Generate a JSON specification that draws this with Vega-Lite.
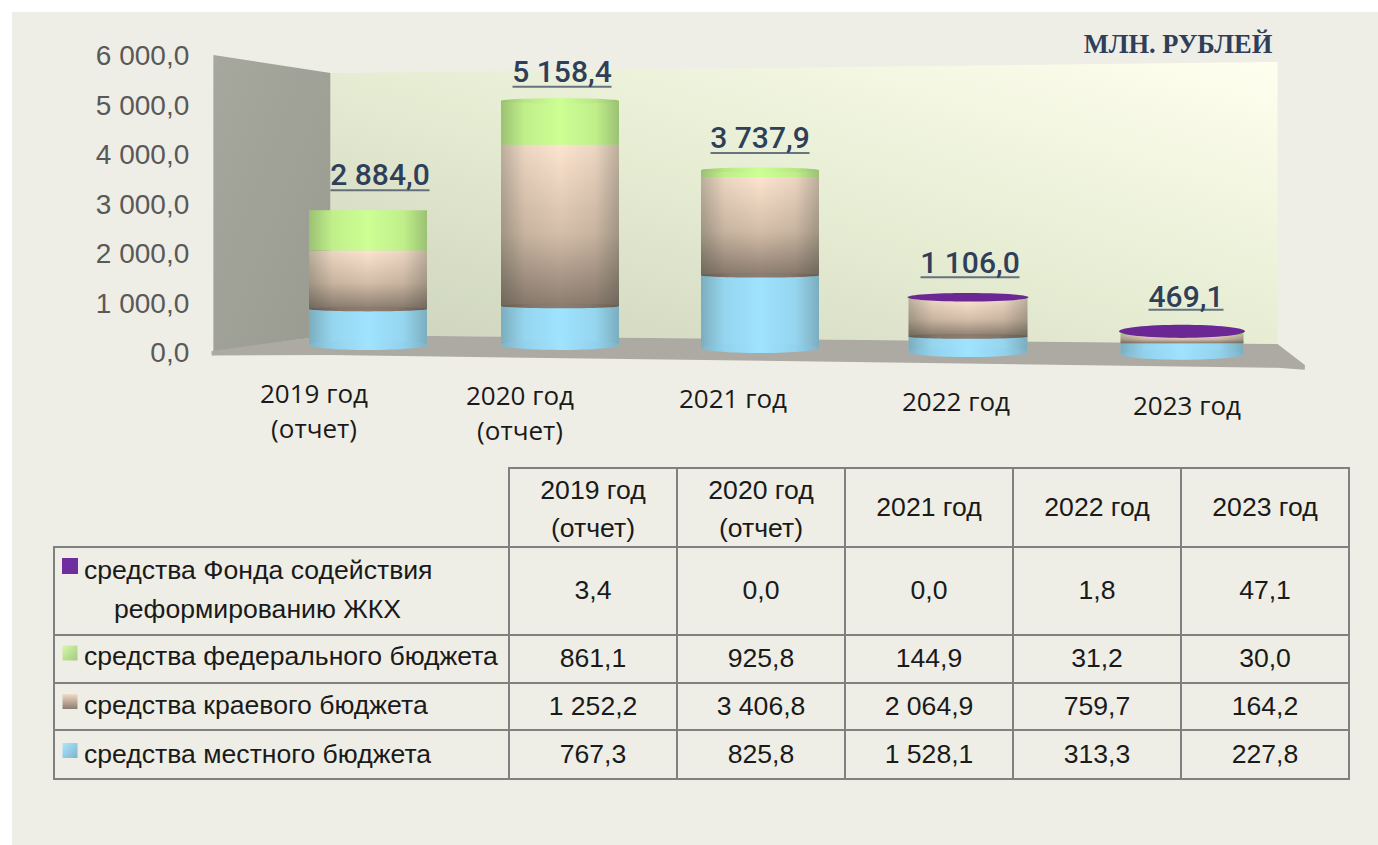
{
"$schema":"https://vega.github.io/schema/vega-lite/v6.json",
"padding":{"left":12,"top":12,"right":0,"bottom":0},
"background":"#ffffff",
"spacing":0,
"bounds":"flush",
"config":{"view":{"fill":"#eeeee6","stroke":null},"concat":{"spacing":0}},
"datasets":{
"walls":[
{"part":"left","px":2018.12,"top":6000,"bottom":0},
{"part":"left","px":2018.787,"top":5636,"bottom":343},
{"part":"back","px":2018.787,"top":5636,"bottom":343},
{"part":"back","px":2023.5,"top":5859,"bottom":162},
{"part":"floor","px":2018.11,"top":20,"bottom":-70},
{"part":"floor","px":2018.787,"top":343,"bottom":-60},
{"part":"floor","px":2023.5,"top":162,"bottom":-320},
{"part":"floor","px":2023.643,"top":-265,"bottom":-360}
],
"segments":[
{"year":2019,"rank":1,"value":767.3},{"year":2019,"rank":2,"value":1252.2},{"year":2019,"rank":3,"value":861.1},{"year":2019,"rank":4,"value":3.4},
{"year":2020,"rank":1,"value":825.8},{"year":2020,"rank":2,"value":3406.8},{"year":2020,"rank":3,"value":925.8},{"year":2020,"rank":4,"value":0},
{"year":2021,"rank":1,"value":1528.1},{"year":2021,"rank":2,"value":2064.9},{"year":2021,"rank":3,"value":144.9},{"year":2021,"rank":4,"value":0},
{"year":2022,"rank":1,"value":313.3},{"year":2022,"rank":2,"value":759.7},{"year":2022,"rank":3,"value":31.2},{"year":2022,"rank":4,"value":1.8},
{"year":2023,"rank":1,"value":227.8},{"year":2023,"rank":2,"value":164.2},{"year":2023,"rank":3,"value":30.0},{"year":2023,"rank":4,"value":47.1}
],
"totals":[
{"year":2019,"total":2884.0,"label":"2 884,0","cat":"2019 год\n(отчет)"},
{"year":2020,"total":5158.4,"label":"5 158,4","cat":"2020 год\n(отчет)"},
{"year":2021,"total":3737.9,"label":"3 737,9","cat":"2021 год"},
{"year":2022,"total":1106.0,"label":"1 106,0","cat":"2022 год"},
{"year":2023,"total":469.1,"label":"469,1","cat":"2023 год"}
],
"cells":[
{"row":0,"col":0,"text":"2019 год\n(отчет)"},{"row":0,"col":1,"text":"2020 год\n(отчет)"},{"row":0,"col":2,"text":"2021 год"},{"row":0,"col":3,"text":"2022 год"},{"row":0,"col":4,"text":"2023 год"},
{"row":1,"col":-1,"text":""},{"row":1,"col":0,"text":"3,4"},{"row":1,"col":1,"text":"0,0"},{"row":1,"col":2,"text":"0,0"},{"row":1,"col":3,"text":"1,8"},{"row":1,"col":4,"text":"47,1"},
{"row":2,"col":-1,"text":""},{"row":2,"col":0,"text":"861,1"},{"row":2,"col":1,"text":"925,8"},{"row":2,"col":2,"text":"144,9"},{"row":2,"col":3,"text":"31,2"},{"row":2,"col":4,"text":"30,0"},
{"row":3,"col":-1,"text":""},{"row":3,"col":0,"text":"1 252,2"},{"row":3,"col":1,"text":"3 406,8"},{"row":3,"col":2,"text":"2 064,9"},{"row":3,"col":3,"text":"759,7"},{"row":3,"col":4,"text":"164,2"},
{"row":4,"col":-1,"text":""},{"row":4,"col":0,"text":"767,3"},{"row":4,"col":1,"text":"825,8"},{"row":4,"col":2,"text":"1 528,1"},{"row":4,"col":3,"text":"313,3"},{"row":4,"col":4,"text":"227,8"}
],
"legend":[
{"row":1,"name":"средства Фонда содействия","cont":"реформированию ЖКХ"},
{"row":2,"name":"средства федерального бюджета","cont":""},
{"row":3,"name":"средства краевого бюджета","cont":""},
{"row":4,"name":"средства местного бюджета","cont":""}
]
},
"vconcat":[
{
"width":1366,"height":448,
"data":{"name":"segments"},
"transform":[
{"stack":"value","groupby":["year"],"sort":[{"field":"rank","order":"ascending"}],"as":["y0","y1"]},
{"calculate":"datum.year==2019?-7:datum.year==2020?-7:datum.year==2021?-4:datum.year==2022?0:2.5","as":"dy"},
{"calculate":"datum.year==2019?0.0027:datum.year==2020?0.0022:datum.year==2021?0.0019:0","as":"c"},
{"calculate":"datum.dy+datum.y0*datum.c","as":"o0"},
{"calculate":"datum.dy+datum.y1*datum.c","as":"o1"},
{"calculate":"datum.year==2022?119:datum.year==2023?123:118","as":"w"},
{"calculate":"datum.w*datum.w","as":"sz"}
],
"layer":[
{"data":{"name":"walls"},"transform":[{"filter":"datum.part=='left'"}],
"mark":{"type":"area","orient":"vertical","color":{"x1":0,"y1":0,"x2":1,"y2":1,"gradient":"linear","stops":[{"offset":0,"color":"#a6a89e"},{"offset":1,"color":"#999b91"}]}},
"encoding":{
"x":{"field":"px","type":"quantitative","axis":null,"scale":{"domain":[2017,2019,2020,2021,2022,2023,2024],"range":[0,356,548,748,956,1170,1366],"nice":false,"zero":false}},
"y":{"field":"top","type":"quantitative","axis":null,"scale":{"domain":[-2181.8,6868.7],"range":[448,0],"nice":false,"zero":false}},
"y2":{"field":"bottom"}}},
{"data":{"name":"walls"},"transform":[{"filter":"datum.part=='back'"}],
"mark":{"type":"area","orient":"vertical","color":{"x1":0,"y1":1,"x2":1,"y2":0,"gradient":"linear","stops":[{"offset":0,"color":"#cdd3bc"},{"offset":0.5,"color":"#e6edd3"},{"offset":1,"color":"#ffffef"}]}},
"encoding":{"x":{"field":"px","type":"quantitative","axis":null},"y":{"field":"top","type":"quantitative","axis":null},"y2":{"field":"bottom"}}},
{"data":{"name":"walls"},"transform":[{"filter":"datum.part=='floor'"}],
"mark":{"type":"area","orient":"vertical","color":"#acaaa3"},
"encoding":{"x":{"field":"px","type":"quantitative","axis":null},"y":{"field":"top","type":"quantitative","axis":null},"y2":{"field":"bottom"}}},

{"transform":[{"filter":"datum.rank==1"}],
"mark":{"type":"bar","color":"#9fe3ff","yOffset":{"expr":"datum.o1"},"y2Offset":{"expr":"datum.o0"}},
"encoding":{"x":{"field":"year","type":"quantitative","axis":null},"y":{"field":"y1","type":"quantitative","axis":null},"y2":{"field":"y0"},"size":{"field":"w","type":"quantitative","scale":null,"legend":null}}},
{"transform":[{"filter":"datum.rank==2"}],
"mark":{"type":"bar","yOffset":{"expr":"datum.o1"},"y2Offset":{"expr":"datum.o0"},"color":{"x1":0,"y1":0,"x2":0,"y2":1,"gradient":"linear","stops":[{"offset":0,"color":"#fde4cf"},{"offset":0.55,"color":"#d4bea9"},{"offset":1,"color":"#8c7d70"}]}},
"encoding":{"x":{"field":"year","type":"quantitative","axis":null},"y":{"field":"y1","type":"quantitative","axis":null},"y2":{"field":"y0"},"size":{"field":"w","type":"quantitative","scale":null,"legend":null}}},
{"transform":[{"filter":"datum.rank==3"}],
"mark":{"type":"bar","color":"#cdff93","yOffset":{"expr":"datum.o1"},"y2Offset":{"expr":"datum.o0"}},
"encoding":{"x":{"field":"year","type":"quantitative","axis":null},"y":{"field":"y1","type":"quantitative","axis":null},"y2":{"field":"y0"},"size":{"field":"w","type":"quantitative","scale":null,"legend":null}}},
{"transform":[{"filter":"datum.rank<=3"}],
"mark":{"type":"bar","yOffset":{"expr":"datum.o1"},"y2Offset":{"expr":"datum.o0"},"color":{"x1":0,"y1":0,"x2":1,"y2":0,"gradient":"linear","stops":[{"offset":0,"color":"rgba(40,50,40,0.3)"},{"offset":0.2,"color":"rgba(40,50,40,0.08)"},{"offset":0.5,"color":"rgba(40,50,40,0)"},{"offset":0.8,"color":"rgba(40,50,40,0.08)"},{"offset":1,"color":"rgba(40,50,40,0.3)"}]}},
"encoding":{"x":{"field":"year","type":"quantitative","axis":null},"y":{"field":"y1","type":"quantitative","axis":null},"y2":{"field":"y0"},"size":{"field":"w","type":"quantitative","scale":null,"legend":null}}},

{"transform":[{"filter":"datum.rank==1"}],
"mark":{"type":"point","filled":true,"opacity":1,"shape":"M-1,0A1,0.085,0,1,0,1,0A1,0.085,0,1,0,-1,0Z","yOffset":{"expr":"datum.o0"},"fill":{"x1":0,"y1":0,"x2":1,"y2":0,"gradient":"linear","stops":[{"offset":0,"color":"#7fb4ca"},{"offset":0.2,"color":"#93d2ec"},{"offset":0.5,"color":"#9fe3ff"},{"offset":0.8,"color":"#93d2ec"},{"offset":1,"color":"#7fb4ca"}]}},
"encoding":{"x":{"field":"year","type":"quantitative","axis":null},"y":{"field":"y0","type":"quantitative","axis":null},"size":{"field":"sz","type":"quantitative","scale":null,"legend":null}}},
{"transform":[{"filter":"datum.rank==2 && datum.year<2023"}],
"mark":{"type":"point","filled":true,"opacity":1,"shape":"M-1,0A1,0.04,0,1,0,1,0A1,0.04,0,1,0,-1,0Z","yOffset":{"expr":"datum.o0"},"fill":{"x1":0,"y1":0,"x2":1,"y2":0,"gradient":"linear","stops":[{"offset":0,"color":"#65594f"},{"offset":0.25,"color":"#85766a"},{"offset":0.5,"color":"#8c7d70"},{"offset":0.75,"color":"#85766a"},{"offset":1,"color":"#65594f"}]}},
"encoding":{"x":{"field":"year","type":"quantitative","axis":null},"y":{"field":"y0","type":"quantitative","axis":null},"size":{"field":"sz","type":"quantitative","scale":null,"legend":null}}},
{"transform":[{"filter":"datum.rank==3 && datum.year>=2020 && datum.year<=2021"}],
"mark":{"type":"point","filled":true,"opacity":1,"shape":"M-1,0A1,0.045,0,1,0,1,0A1,0.045,0,1,0,-1,0Z","yOffset":{"expr":"datum.o1"},"fill":{"x1":0,"y1":0,"x2":1,"y2":0,"gradient":"linear","stops":[{"offset":0,"color":"#96bf6f"},{"offset":0.2,"color":"#b9e686"},{"offset":0.5,"color":"#cdff93"},{"offset":0.8,"color":"#b9e686"},{"offset":1,"color":"#96bf6f"}]}},
"encoding":{"x":{"field":"year","type":"quantitative","axis":null},"y":{"field":"y1","type":"quantitative","axis":null},"size":{"field":"sz","type":"quantitative","scale":null,"legend":null}}},
{"transform":[{"filter":"datum.rank==4 && datum.year==2022"}],
"mark":{"type":"point","filled":true,"opacity":1,"color":"#6b2794","shape":"M-1,0A1,0.07,0,1,0,1,0A1,0.07,0,1,0,-1,0Z","yOffset":{"expr":"datum.o1"}},
"encoding":{"x":{"field":"year","type":"quantitative","axis":null},"y":{"field":"y1","type":"quantitative","axis":null},"size":{"value":14641}}},
{"transform":[{"filter":"datum.rank==4 && datum.year==2023"}],
"mark":{"type":"point","filled":true,"opacity":1,"color":"#6b2794","shape":"M-1,0A1,0.105,0,1,0,1,0A1,0.105,0,1,0,-1,0Z","yOffset":{"expr":"datum.o1"}},
"encoding":{"x":{"field":"year","type":"quantitative","axis":null},"y":{"field":"y1","type":"quantitative","axis":null},"size":{"value":15876}}},

{"data":{"name":"totals"},
"transform":[
{"calculate":"datum.year==2019?-33:datum.year==2020?-24:datum.year==2021?-28:datum.year==2022?-33:-31","as":"ty"},
{"calculate":"datum.year==2019?12:datum.year==2020?2:datum.year==2021?0:datum.year==2022?2:4","as":"tx"}],
"mark":{"type":"text","font":"Roboto","fontWeight":500,"fontSize":30,"color":"#2f3f5a","baseline":"middle","align":"center","xOffset":{"expr":"datum.tx"},"yOffset":{"expr":"datum.ty"}},
"encoding":{"x":{"field":"year","type":"quantitative","axis":null},"y":{"field":"total","type":"quantitative","axis":null},"text":{"field":"label"}}},
{"data":{"name":"totals"},
"transform":[
{"calculate":"datum.year==2019?-19:datum.year==2020?-10:datum.year==2021?-14:datum.year==2022?-20:-19","as":"ty"},
{"calculate":"datum.year==2019?12:datum.year==2020?2:datum.year==2021?0:datum.year==2022?2:4","as":"tx"},
{"calculate":"datum.total<1000?75:99","as":"uw"}],
"mark":{"type":"tick","orient":"horizontal","color":"#2f3f5a","thickness":2,"xOffset":{"expr":"datum.tx"},"yOffset":{"expr":"datum.ty"}},
"encoding":{"x":{"field":"year","type":"quantitative","axis":null},"y":{"field":"total","type":"quantitative","axis":null},"size":{"field":"uw","type":"quantitative","scale":null,"legend":null}}},
{"data":{"name":"totals"},
"transform":[
{"calculate":"datum.year==2019?-54:datum.year==2020?-40:datum.year==2021?-27:datum.year==2022?-12:5","as":"cx"},
{"calculate":"datum.year==2019?42.5:datum.year==2020?45:datum.year==2021?48:datum.year==2022?51:55","as":"cy"}],
"mark":{"type":"text","font":"Open Sans","fontSize":26,"color":"#1a1a1a","lineBreak":"\n","lineHeight":35,"baseline":"middle","align":"center","xOffset":{"expr":"datum.cx"},"yOffset":{"expr":"datum.cy"}},
"encoding":{"x":{"field":"year","type":"quantitative","axis":null},"y":{"datum":0,"type":"quantitative","axis":null},"text":{"field":"cat"}}},
{"data":{"values":[{"t":"МЛН. РУБЛЕЙ"}]},
"mark":{"type":"text","font":"Liberation Serif","fontWeight":"bold","fontSize":26.5,"color":"#2f3f5a","baseline":"middle","align":"center","xOffset":-4,"yOffset":-10},
"encoding":{"x":{"datum":2023,"type":"quantitative","axis":null},"y":{"datum":6000,"type":"quantitative","axis":null},"text":{"field":"t"}}},
{"data":{"values":[{"v":0},{"v":1000},{"v":2000},{"v":3000},{"v":4000},{"v":5000},{"v":6000}]},
"mark":{"type":"text","font":"Liberation Sans","fontSize":28,"color":"#595959","baseline":"middle","align":"right","xOffset":-3,"yOffset":2},
"transform":[{"calculate":"replace(replace(format(datum.v,',.1f'),',',' '),'.',',')","as":"lab"}],
"encoding":{"x":{"datum":2018.0,"type":"quantitative","axis":null},"y":{"field":"v","type":"quantitative","axis":null},"text":{"field":"lab"}}}
]
},
{
"width":1366,"height":385,
"layer":[
{"data":{"name":"cells"},
"transform":[{"calculate":"datum.col+1","as":"colEnd"},{"calculate":"datum.row+1","as":"rowEnd"}],
"mark":{"type":"rect","fillOpacity":0,"stroke":"#808080","strokeWidth":2},
"encoding":{
"x":{"field":"col","type":"quantitative","axis":null,"scale":{"domain":[-1,0,1,2,3,4,5],"range":[42,497,665,833,1001,1169,1337],"nice":false,"zero":false}},
"x2":{"field":"colEnd"},
"y":{"field":"row","type":"quantitative","axis":null,"scale":{"domain":[0,1,2,3,4,5],"range":[8,87,175,223,270,319],"nice":false,"zero":false}},
"y2":{"field":"rowEnd"}}},
{"data":{"name":"cells"},
"transform":[{"calculate":"datum.col+0.5","as":"cx"},{"calculate":"datum.row+0.5","as":"cy"},{"calculate":"indexof(datum.text,'\\n')>=0?-17:0","as":"ly"}],
"mark":{"type":"text","font":"Liberation Sans","fontSize":26.6,"color":"#1a1a1a","lineBreak":"\n","lineHeight":38,"baseline":"middle","align":"center","yOffset":{"expr":"datum.ly"}},
"encoding":{"x":{"field":"cx","type":"quantitative","axis":null},"y":{"field":"cy","type":"quantitative","axis":null},"text":{"field":"text"}}},
{"data":{"name":"legend"},
"transform":[{"calculate":"datum.row+0.5","as":"cy"},{"calculate":"datum.row==1?-20:datum.row==2?-2:datum.row==3?-0.5:0.5","as":"ny"}],
"mark":{"type":"text","font":"Liberation Sans","fontSize":26.6,"color":"#1a1a1a","baseline":"middle","align":"left","xOffset":30,"yOffset":{"expr":"datum.ny"}},
"encoding":{"x":{"datum":-1,"type":"quantitative","axis":null},"y":{"field":"cy","type":"quantitative","axis":null},"text":{"field":"name"}}},
{"data":{"name":"legend"},
"transform":[{"filter":"datum.cont!=''"},{"calculate":"datum.row+0.5","as":"cy"}],
"mark":{"type":"text","font":"Liberation Sans","fontSize":26.6,"color":"#1a1a1a","baseline":"middle","align":"left","xOffset":60,"yOffset":19},
"encoding":{"x":{"datum":-1,"type":"quantitative","axis":null},"y":{"field":"cy","type":"quantitative","axis":null},"text":{"field":"cont"}}},
{"data":{"name":"legend"},
"transform":[{"filter":"datum.row==1"},{"calculate":"datum.row+0.5","as":"cy"}],
"mark":{"type":"point","shape":"square","filled":true,"opacity":1,"size":256,"color":"#6f2da0","xOffset":16,"yOffset":-25},
"encoding":{"x":{"datum":-1,"type":"quantitative","axis":null},"y":{"field":"cy","type":"quantitative","axis":null}}},
{"data":{"name":"legend"},
"transform":[{"filter":"datum.row==2"},{"calculate":"datum.row+0.5","as":"cy"}],
"mark":{"type":"point","shape":"square","filled":true,"opacity":1,"size":225,"xOffset":16,"yOffset":-6,"fill":{"x1":0,"y1":0,"x2":1,"y2":1,"gradient":"linear","stops":[{"offset":0,"color":"#d5f9ab"},{"offset":1,"color":"#a5c97e"}]}},
"encoding":{"x":{"datum":-1,"type":"quantitative","axis":null},"y":{"field":"cy","type":"quantitative","axis":null}}},
{"data":{"name":"legend"},
"transform":[{"filter":"datum.row==3"},{"calculate":"datum.row+0.5","as":"cy"}],
"mark":{"type":"point","shape":"square","filled":true,"opacity":1,"size":225,"xOffset":16,"yOffset":-5,"fill":{"x1":0,"y1":0,"x2":0,"y2":1,"gradient":"linear","stops":[{"offset":0,"color":"#f1dbc8"},{"offset":1,"color":"#8c7d70"}]}},
"encoding":{"x":{"datum":-1,"type":"quantitative","axis":null},"y":{"field":"cy","type":"quantitative","axis":null}}},
{"data":{"name":"legend"},
"transform":[{"filter":"datum.row==4"},{"calculate":"datum.row+0.5","as":"cy"}],
"mark":{"type":"point","shape":"square","filled":true,"opacity":1,"size":225,"xOffset":16,"yOffset":-4,"fill":{"x1":0,"y1":0,"x2":1,"y2":1,"gradient":"linear","stops":[{"offset":0,"color":"#a9e6ff"},{"offset":1,"color":"#7fb4ca"}]}},
"encoding":{"x":{"datum":-1,"type":"quantitative","axis":null},"y":{"field":"cy","type":"quantitative","axis":null}}}
]
}
]
}
